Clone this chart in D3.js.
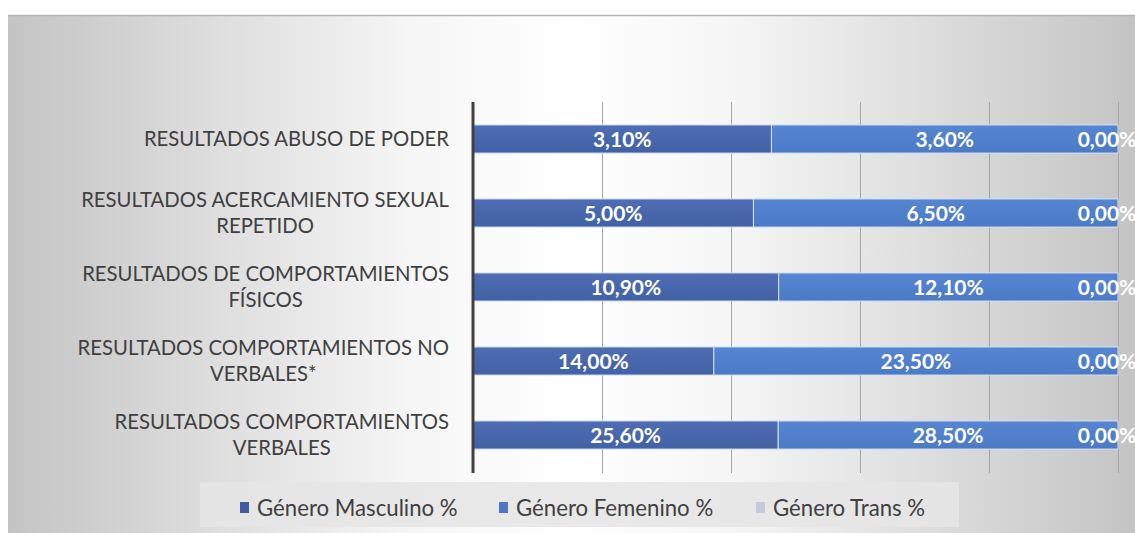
<!DOCTYPE html>
<html><head><meta charset="utf-8">
<script src="https://cdn.jsdelivr.net/npm/d3@7"></script>
<style>html,body{margin:0;padding:0;background:#fff;} svg{display:block;}</style>
</head><body>
<svg id="chart" width="1135" height="533"></svg>
<script>
const categories = [
  "RESULTADOS ABUSO DE PODER",
  "RESULTADOS ACERCAMIENTO SEXUAL\nREPETIDO",
  "RESULTADOS DE COMPORTAMIENTOS\nFÍSICOS",
  "RESULTADOS COMPORTAMIENTOS NO\nVERBALES*",
  "RESULTADOS COMPORTAMIENTOS\nVERBALES"
];
const seriesNames = ["Género Masculino %", "Género Femenino %", "Género Trans %"];
const masculino = [3.10, 5.00, 10.90, 14.00, 25.60];
const femenino = [3.60, 6.50, 12.10, 23.50, 28.50];
const trans = [0.00, 0.00, 0.00, 0.00, 0.00];
const xTicks = [0, 0.2, 0.4, 0.6, 0.8, 1];
const colors = ["#4766ab", "#5080cc", "#b9c4dc"];

const rows = categories.map((c, i) => ({cat: c, s0: masculino[i], s1: femenino[i], s2: trans[i]}));
const keys = ["s0", "s1", "s2"];
const stacked = d3.stack().keys(keys).offset(d3.stackOffsetExpand)(rows);

const svg = d3.select("#chart");
const FONT = "Lato, 'Open Sans', sans-serif";

// background gradient
const defs = svg.append("defs");
const bg = defs.append("linearGradient").attr("id", "bg").attr("x1", 0).attr("x2", 1).attr("y1", 0).attr("y2", 0);
[[0, "#c4c4c4"], [0.36, "#f6f6f6"], [0.5, "#ffffff"], [0.64, "#f6f6f6"], [1, "#c4c4c4"]]
  .forEach(([o, c]) => bg.append("stop").attr("offset", o).attr("stop-color", c));
const barG0 = defs.append("linearGradient").attr("id", "bar0").attr("x1", 0).attr("x2", 0).attr("y1", 0).attr("y2", 1);
[[0, "#4f6db3"], [0.5, "#4766ab"], [1, "#4262a6"]].forEach(([o, c]) => barG0.append("stop").attr("offset", o).attr("stop-color", c));
const barG1 = defs.append("linearGradient").attr("id", "bar1").attr("x1", 0).attr("x2", 0).attr("y1", 0).attr("y2", 1);
[[0, "#5686d2"], [0.5, "#5080cc"], [1, "#4b7ac5"]].forEach(([o, c]) => barG1.append("stop").attr("offset", o).attr("stop-color", c));
const fills = ["url(#bar0)", "url(#bar1)", colors[2]];

svg.append("rect").attr("x", 8).attr("y", 15).attr("width", 1127).attr("height", 518).attr("fill", "url(#bg)");
svg.append("line").attr("x1", 8).attr("x2", 1135).attr("y1", 15.5).attr("y2", 15.5).attr("stroke", "#b4b4b4").attr("stroke-width", 1.5);

const x = d3.scaleLinear().domain([0, 1]).range([473, 1118]);
const y = d3.scaleBand().domain(categories).range([102, 472]).paddingInner(0.62).paddingOuter(0.31);

// gridlines
svg.append("g").selectAll("line").data(xTicks.slice(1)).join("line")
  .attr("x1", d => Math.round(x(d)) + 0.5).attr("x2", d => Math.round(x(d)) + 0.5)
  .attr("y1", 102).attr("y2", 473)
  .attr("stroke", "#a6a6a6").attr("stroke-width", 1);

// bars
const layers = svg.append("g").selectAll("g").data(stacked).join("g")
  .attr("fill", (d, i) => fills[i]);
layers.selectAll("rect").data(d => d).join("rect")
  .attr("x", d => x(d[0])).attr("width", d => Math.max(0, x(d[1]) - x(d[0])))
  .attr("y", d => y(d.data.cat)).attr("height", y.bandwidth())
  .attr("stroke", "#d6e2f4").attr("stroke-width", 1);

// data labels
stacked.forEach((layer, li) => {
  const vals = [masculino, femenino, trans][li];
  svg.append("g").selectAll("text").data(layer).join("text")
    .attr("x", (d, i) => {
      const cx = (x(d[0]) + x(d[1])) / 2;
      return li === 2 ? cx - 11 : cx;
    })
    .attr("y", d => y(d.data.cat) + y.bandwidth() / 2)
    .attr("dy", "0.36em")
    .attr("text-anchor", "middle")
    .attr("font-family", FONT).attr("font-weight", "bold").attr("font-size", 21)
    .attr("fill", "#ffffff")
    .text((d, i) => vals[i].toFixed(2).replace(".", ",") + "%");
});

// y axis line
svg.append("line").attr("x1", 473).attr("x2", 473).attr("y1", 102).attr("y2", 473)
  .attr("stroke", "#404040").attr("stroke-width", 3);

// category labels
const lh = 26;
categories.forEach(c => {
  const lines = c.split("\n");
  const g = svg.append("g");
  const cy = y(c) + y.bandwidth() / 2;
  const texts = lines.map((t, i) => g.append("text")
    .attr("y", cy + (i - (lines.length - 1) / 2) * lh)
    .attr("dy", "0.36em")
    .attr("font-family", FONT).attr("font-size", 20.3).attr("fill", "#404040")
    .attr("text-anchor", "middle").text(t));
  const w = d3.max(texts, t => t.node().getComputedTextLength());
  const center = 449 - w / 2;
  texts.forEach(t => t.attr("x", center));
});

// legend
svg.append("rect").attr("x", 200).attr("y", 482).attr("width", 759).attr("height", 45)
  .attr("fill", "#e6e6e6").attr("opacity", 0.9);
const legendX = [257, 516, 773];
const legendColors = ["#3f5ca0", "#4d78c8", "#c3cade"];
seriesNames.forEach((n, i) => {
  svg.append("rect").attr("x", legendX[i] - 17).attr("y", 502).attr("width", 9).attr("height", 11).attr("fill", legendColors[i]);
  svg.append("text").attr("x", legendX[i]).attr("y", 508).attr("dy", "0.36em")
    .attr("font-family", FONT).attr("font-size", 22.2).attr("fill", "#404040").text(n);
});
</script>
</body></html>
